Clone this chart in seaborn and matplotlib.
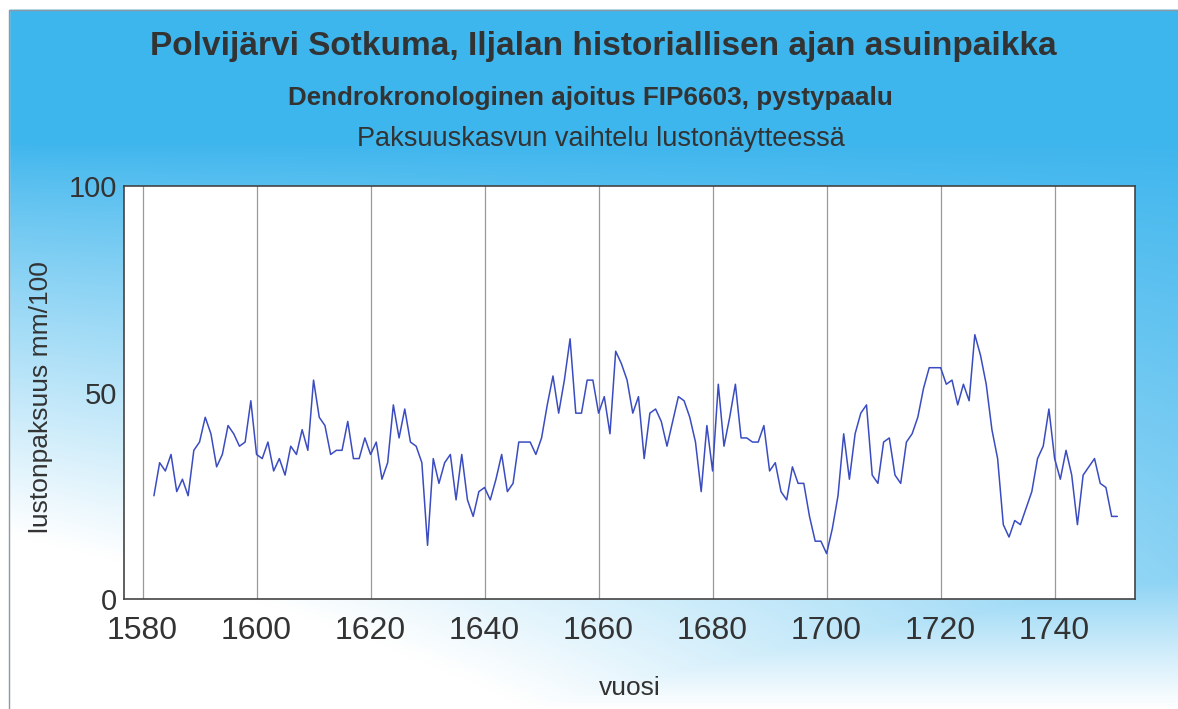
import numpy as np
import pandas as pd
import matplotlib
matplotlib.use("Agg")
import matplotlib.pyplot as plt
import seaborn as sns
from matplotlib.ticker import MultipleLocator, FixedLocator

# Ring-width series (mm/100), one value per year 1582-1751
years = np.arange(1582, 1752)
ring_width = [
    25, 33, 31, 35, 26, 29, 25, 36, 38, 44,          # 1582-1591
    40, 32, 35, 42, 40, 37, 38, 48, 35, 34,          # 1592-1601
    38, 31, 34, 30, 37, 35, 41, 36, 53, 44,          # 1602-1611
    42, 35, 36, 36, 43, 34, 34, 39, 35, 38,          # 1612-1621
    29, 33, 47, 39, 46, 38, 37, 33, 13, 34,          # 1622-1631
    28, 33, 35, 24, 35, 24, 20, 26, 27, 24,          # 1632-1641
    29, 35, 26, 28, 38, 38, 38, 35, 39, 47,          # 1642-1651
    54, 45, 53, 63, 45, 45, 53, 53, 45, 49,          # 1652-1661
    40, 60, 57, 53, 45, 49, 34, 45, 46, 43,          # 1662-1671
    37, 43, 49, 48, 44, 38, 26, 42, 31, 52,          # 1672-1681
    37, 44, 52, 39, 39, 38, 38, 42, 31, 33,          # 1682-1691
    26, 24, 32, 28, 28, 20, 14, 14, 11, 17,          # 1692-1701
    25, 40, 29, 40, 45, 47, 30, 28, 38, 39,          # 1702-1711
    30, 28, 38, 40, 44, 51, 56, 56, 56, 52,          # 1712-1721
    53, 47, 52, 48, 64, 59, 52, 41, 34, 18,          # 1722-1731
    15, 19, 18, 22, 26, 34, 37, 46, 34, 29,          # 1732-1741
    36, 30, 18, 30, 32, 34, 28, 27, 20, 20,          # 1742-1751
]

title = "Polvijärvi Sotkuma, Iljalan historiallisen ajan asuinpaikka"
subtitle = "Dendrokronologinen ajoitus FIP6603, pystypaalu"
subsubtitle = "Paksuuskasvun vaihtelu lustonäytteessä"
x_label = "vuosi"
y_label = "lustonpaksuus mm/100"
x_major = [1580, 1600, 1620, 1640, 1660, 1680, 1700, 1720, 1740]
y_major = [0, 50, 100]

df = pd.DataFrame({"vuosi": years, "paksuus": ring_width})

sns.set_theme(style="white")
plt.rcParams["font.family"] = ["Liberation Sans", "DejaVu Sans"]

W, H = 1178, 709
fig = plt.figure(figsize=(W / 100, H / 100), dpi=100)

# Sky-blue backdrop fading to white towards the bottom and lower left
bg = fig.add_axes([0, 0, 1, 1], zorder=-10)
bg.set_axis_off()
yy, xx = np.mgrid[0:1:360j, 0:1:600j]
s_diag = np.clip((yy - 0.2) / 0.8 * (0.45 + 1.0 * (1 - xx)), 0, 1)
s_bottom = np.clip((yy - 0.72) / 0.28, 0, 1)
s = np.maximum(s_diag, s_bottom) ** 0.85
blue = np.array([0.24, 0.71, 0.93])
white = np.array([1.0, 1.0, 1.0])
img = blue[None, None, :] * (1 - s[..., None]) + white[None, None, :] * s[..., None]
# white paper margin above and to the left of the panel
px_top = int(round(10 / H * 360))
px_left = int(round(9 / W * 600))
img[:px_top, :, :] = 1.0
img[:, :px_left, :] = 1.0
bg.imshow(img, extent=[0, 1, 0, 1], aspect="auto", interpolation="bilinear")
bg.set_xlim(0, 1)
bg.set_ylim(0, 1)
bg.plot([9 / W, 9 / W, 1], [0, 1 - 10 / H, 1 - 10 / H], color="#8a9aa5", lw=1.0)

ax = fig.add_axes([124 / W, 1 - 599 / H, (1135 - 124) / W, (599 - 186) / H])
ax.set_facecolor("white")

sns.lineplot(data=df, x="vuosi", y="paksuus", ax=ax, color="#3a4cc0", linewidth=1.1)

ax.set_xlim(1576.75, 1754.1)
ax.set_ylim(0, 100)

ax.xaxis.set_major_locator(FixedLocator(x_major))
ax.yaxis.set_major_locator(FixedLocator(y_major))
ax.xaxis.set_minor_locator(FixedLocator([y for y in range(1581, 1752) if y % 20 != 0]))
ax.yaxis.set_minor_locator(MultipleLocator(10))

ax.grid(True, axis="x", which="major", color="#9a9a9a", linewidth=0.9)
ax.grid(False, axis="y")

ax.tick_params(axis="x", which="major", length=0, pad=12, labelsize=23, labelcolor="#333333")
ax.tick_params(axis="x", which="minor", direction="in", length=5, width=0.7, color="#777777")
ax.tick_params(axis="y", which="major", length=0, pad=5, labelsize=21, labelcolor="#333333")
ax.tick_params(axis="y", which="minor", direction="in", length=7, width=0.7, color="#777777")

for sp in ax.spines.values():
    sp.set_color("#444444")
    sp.set_linewidth(1.2)

ax.set_xlabel(x_label, fontsize=19, color="#333333", labelpad=22)
ax.set_ylabel(y_label, fontsize=19, color="#333333")
ax.yaxis.set_label_coords(-0.07, 0.49)

fig.text(603 / W, 1 - 46 / H, title, ha="center", va="center", fontsize=24,
         fontweight="bold", color="#333333")
fig.text(590 / W, 1 - 98 / H, subtitle, ha="center", va="center", fontsize=18.7,
         fontweight="bold", color="#333333")
fig.text(601 / W, 1 - 139 / H, subsubtitle, ha="center", va="center", fontsize=19.5,
         color="#333333")

fig.savefig("out.png", dpi=100)
